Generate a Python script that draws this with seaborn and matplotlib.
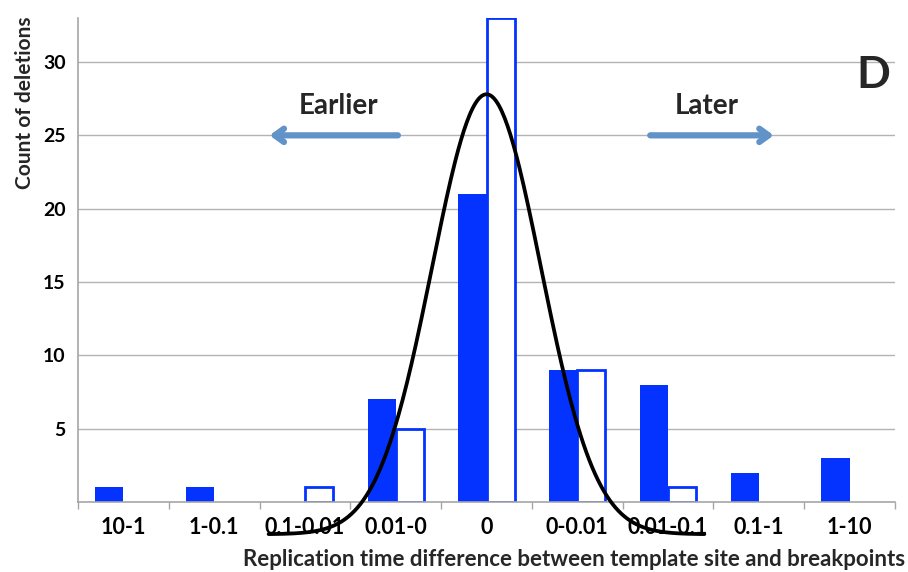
import numpy as np
import pandas as pd
import seaborn as sns
import matplotlib.pyplot as plt

# replication-time bins and deletion counts
ranges = ["10-1", "1-0.1", "0.1-0.01", "0.01-0", "0", "0-0.01", "0.01-0.1", "0.1-1", "1-10"]
filled_counts = [1, 1, 0, 7, 21, 9, 8, 2, 3]
open_counts = [0, 0, 1, 5, 33, 9, 1, 0, 0]
y_ticks = [5, 10, 15, 20, 25, 30]

# fitted normal curve drawn over the bars (bin-index units)
curve_mean = 4.0
curve_sd = 0.6
curve_amp = 30.0
curve_base = -2.2
curve_span = (1.6, 6.4)

BLUE = "#0433ff"
ARROW = "#6193c8"

sns.set_theme(style="white")
plt.rcParams["font.family"] = ["Lato", "DejaVu Sans"]
plt.rcParams["font.weight"] = "bold"

df = pd.DataFrame({
    "range": ranges * 2,
    "count": filled_counts + open_counts,
    "set": ["filled"] * len(ranges) + ["open"] * len(ranges),
})

fig = plt.figure(figsize=(9.08, 5.72), dpi=100)
ax = fig.add_axes([0.0859, 0.1224, 0.8998, 0.8461])

sns.barplot(data=df, x="range", y="count", hue="set", palette=[BLUE, BLUE],
            width=0.62, gap=0, saturation=1, legend=False, ax=ax)

for bar in ax.containers[0]:
    bar.set_edgecolor("none")
    if bar.get_height() == 0:
        bar.set_visible(False)
for bar in ax.containers[1]:
    bar.set_facecolor("white")
    bar.set_edgecolor(BLUE)
    bar.set_linewidth(2.0)
    if bar.get_height() == 0:
        bar.set_visible(False)

xs = np.linspace(curve_span[0], curve_span[1], 300)
ys = curve_base + curve_amp * np.exp(-(xs - curve_mean) ** 2 / (2 * curve_sd ** 2))
ax.plot(xs, ys, color="black", lw=2.7, clip_on=False, zorder=5,
        solid_capstyle="round")

ax.set_xlim(-0.5, len(ranges) - 0.5)
ax.set_ylim(0, 33)
ax.set_yticks(y_ticks)
ax.set_yticklabels([str(t) for t in y_ticks], fontsize=14, fontweight="bold")
ax.set_xticks(range(len(ranges)))
ax.set_xticklabels(ranges, fontsize=15.5, fontweight="bold")
ax.set_xticks(np.arange(-0.5, len(ranges), 1), minor=True)
ax.tick_params(axis="x", which="major", length=0, pad=11, colors="black")
ax.tick_params(axis="x", which="minor", length=5, width=1, color="#a6a6a6", bottom=True)
ax.tick_params(axis="y", length=0, pad=9, colors="black")

ax.grid(axis="y", color="#b3b3b3", lw=1)
ax.set_axisbelow(True)
sns.despine(ax=ax)
for side in ["left", "bottom"]:
    ax.spines[side].set_color("#a6a6a6")
    ax.spines[side].set_linewidth(1.2)

ax.set_xlabel("Replication time difference between template site and breakpoints",
              fontsize=16, fontweight="bold", loc="right")
ax.xaxis.set_label_coords(1.012, -0.098)
ax.set_ylabel("Count of deletions", fontsize=15, fontweight="bold", loc="top")
ax.yaxis.set_label_coords(-0.053, 1.004)

ax.annotate("", xy=(0.231, 25), xytext=(0.395, 25),
            xycoords=("axes fraction", "data"),
            arrowprops=dict(arrowstyle="->,head_length=0.55,head_width=0.4",
                            color=ARROW, lw=4.5))
ax.annotate("", xy=(0.855, 25), xytext=(0.697, 25),
            xycoords=("axes fraction", "data"),
            arrowprops=dict(arrowstyle="->,head_length=0.55,head_width=0.4",
                            color=ARROW, lw=4.5))
ax.text(0.319, 0.818, "Earlier", transform=ax.transAxes, ha="center", va="center",
        fontsize=20, fontweight="bold")
ax.text(0.769, 0.818, "Later", transform=ax.transAxes, ha="center", va="center",
        fontsize=20, fontweight="bold")
ax.text(0.974, 0.882, "D", transform=ax.transAxes, ha="center", va="center",
        fontsize=32, fontweight="bold")

fig.savefig("out.png", dpi=100)
